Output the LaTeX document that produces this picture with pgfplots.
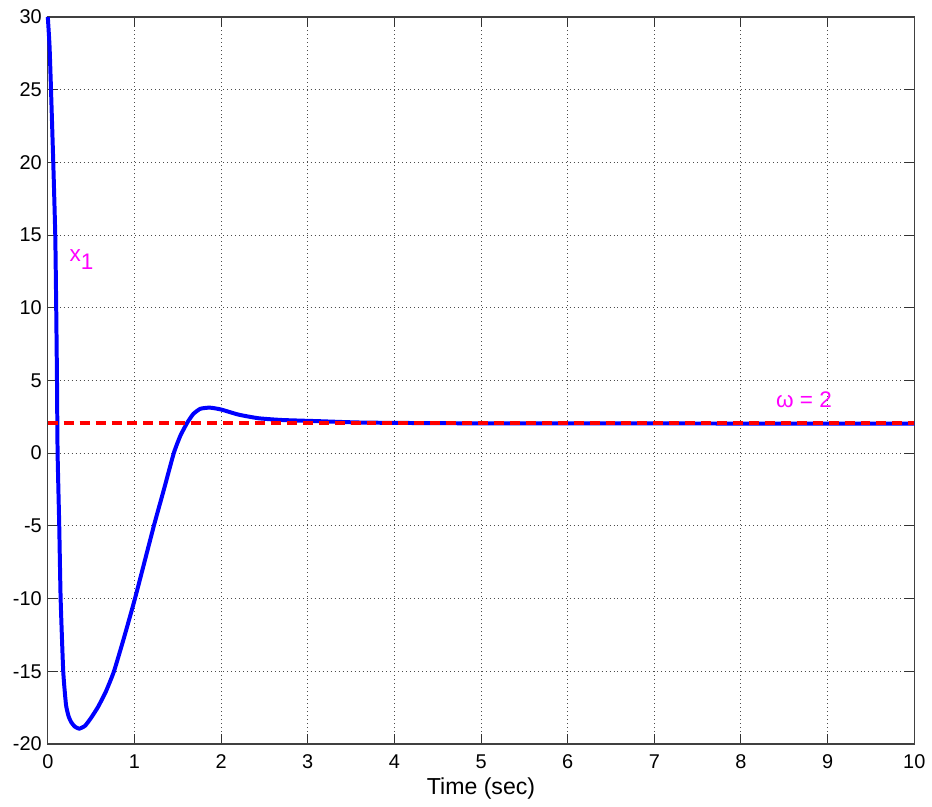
\documentclass[border=0pt]{standalone}
\usepackage{pgfplots}
\pgfplotsset{compat=1.18}
\usepackage{fontspec}
\setmainfont{Liberation Sans}

\definecolor{mblue}{rgb}{0,0,1}
\definecolor{mred}{rgb}{1,0,0}
\definecolor{mmag}{rgb}{1,0,1}

\begin{document}
\fontsize{10}{12}\selectfont
\begin{tikzpicture}
  \begin{axis}[
      scale only axis,
      width=435pt, height=365pt,
      xmin=0, xmax=10, ymin=-20, ymax=30,
      xtick={0,1,...,10}, ytick={-20,-15,...,30},
      /pgf/number format/assume math mode=true,
      tick label style={font=\fontsize{10}{12}\selectfont},
      xticklabel style={anchor=base, yshift=-12.5pt},
      yticklabel style={xshift=0.5pt},
      xlabel={Time (sec)},
      xlabel style={font=\fontsize{11.6}{14}\selectfont,
        at={(axis description cs:0.5,0)}, anchor=base, yshift=-25.5pt},
      tick align=inside,
      major tick length=5pt,
      tick style={black!80, line width=0.5pt},
      axis line style={black!75, line width=0.6pt},
      grid=major,
      major grid style={black!70, line width=0.5pt, dash pattern=on 0.5pt off 1.5pt},
      clip=false,
    ]
    \addplot[mblue, line width=2pt, smooth, tension=0.3] coordinates {
      (0,30) (0.02,28) (0.037,25) (0.063,20) (0.086,15) (0.097,10)
      (0.106,5) (0.113,0) (0.132,-5) (0.148,-10) (0.178,-15)
      (0.21,-17.3) (0.24,-18.1) (0.27,-18.5) (0.31,-18.8) (0.362,-18.95)
      (0.43,-18.75) (0.50,-18.2) (0.58,-17.45) (0.67,-16.4) (0.764,-15)
      (0.879,-12.7) (1.006,-10) (1.224,-5) (1.34,-2.5) (1.454,0)
      (1.53,1.2) (1.61,2.1) (1.68,2.7) (1.76,3.05) (1.87,3.13) (2.0,3.0)
      (2.2,2.65) (2.43,2.4) (2.7,2.28) (3.12,2.2) (3.66,2.1) (5,2.05)
      (10,2.03)
    };
    \addplot[mred, line width=2pt, dash pattern=on 5pt off 3pt] coordinates {(0,2.1) (10,2.1)};
    \node[mmag, anchor=base west, inner sep=0pt, font=\fontsize{11.3}{13}\selectfont]
      at (axis cs:0.247,13.15) {x\raisebox{-0.6ex}{1}};
    \node[mmag, anchor=base west, inner sep=0pt, font=\fontsize{11.3}{13}\selectfont]
      at (axis cs:8.40,3.13) {ω = 2};
  \end{axis}
  \path (current axis.south west) ++(-24pt,-31.5pt) coordinate (bbsw);
  \path (current axis.north east) ++(6.5pt,8.5pt) coordinate (bbne);
  \path (bbsw) rectangle (bbne);
\end{tikzpicture}
\end{document}
